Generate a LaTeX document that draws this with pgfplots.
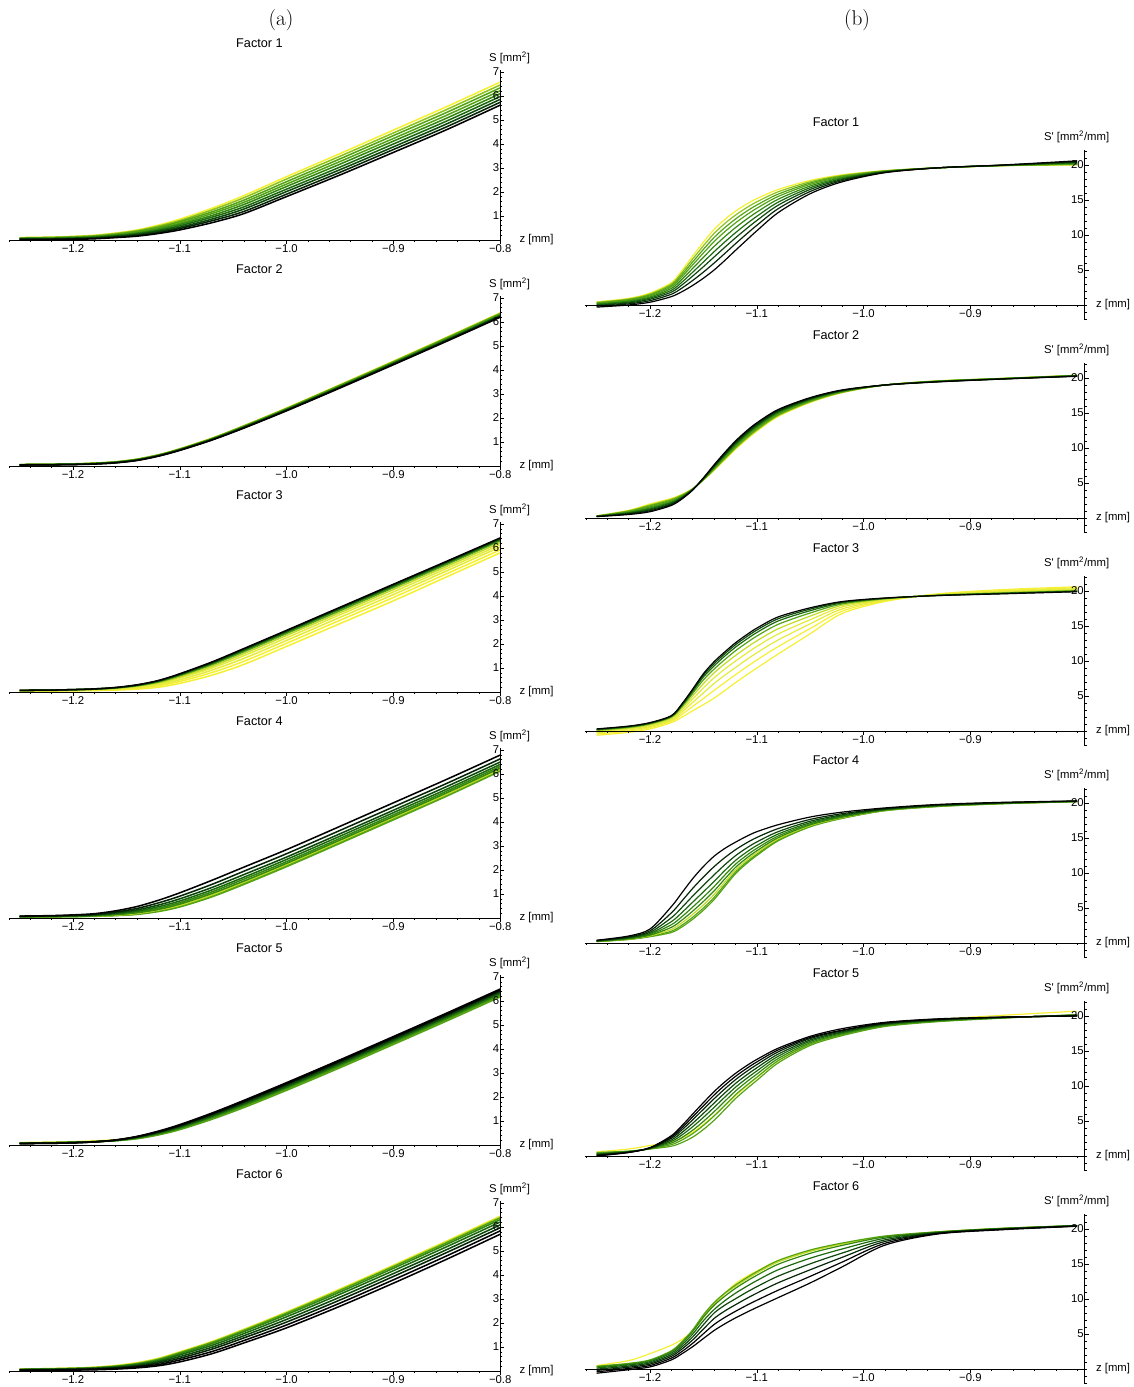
\documentclass[border=0pt]{standalone}
\usepackage{pgfplots}
\usepackage{pgfplotstable}
\pgfplotsset{compat=1.18}
\usepackage{fontspec}
\newfontfamily\arial{Liberation Sans}
\newcommand\lblfont{\arial\fontsize{8.5}{10}\selectfont}
\newcommand\ttlfont{\arial\fontsize{9.5}{11}\selectfont}

\definecolor{cY}{rgb}{0.96,0.94,0.20}
\definecolor{cY2}{rgb}{0.90,0.92,0.24}
\definecolor{cYG}{rgb}{0.76,0.86,0.15}
\definecolor{cLG}{rgb}{0.55,0.76,0.10}
\definecolor{cG}{rgb}{0.33,0.64,0.08}
\definecolor{cMG}{rgb}{0.20,0.53,0.06}
\definecolor{cDG}{rgb}{0.11,0.41,0.05}
\definecolor{cVG}{rgb}{0.05,0.28,0.04}
\definecolor{cXG}{rgb}{0.02,0.15,0.02}
% palettes
\colorlet{pS0}{cY}\colorlet{pS1}{cLG}\colorlet{pS2}{cG}\colorlet{pS3}{cG}\colorlet{pS4}{cMG}\colorlet{pS5}{cDG}\colorlet{pS6}{cVG}\colorlet{pS7}{cXG}\colorlet{pS8}{black}
\colorlet{pT0}{cY}\colorlet{pT1}{cY}\colorlet{pT2}{cY2}\colorlet{pT3}{cY2}\colorlet{pT4}{cYG}\colorlet{pT5}{cG}\colorlet{pT6}{cDG}\colorlet{pT7}{cVG}\colorlet{pT8}{black}
\colorlet{pF0}{cG}\colorlet{pF1}{cG}\colorlet{pF2}{cYG}\colorlet{pF3}{cMG}\colorlet{pF4}{cMG}\colorlet{pF5}{cDG}\colorlet{pF6}{cVG}\colorlet{pF7}{cXG}\colorlet{pF8}{black}
\colorlet{pV0}{cY}\colorlet{pV1}{cG}\colorlet{pV2}{cG}\colorlet{pV3}{cMG}\colorlet{pV4}{cDG}\colorlet{pV5}{cVG}\colorlet{pV6}{cXG}\colorlet{pV7}{black}\colorlet{pV8}{black}
\colorlet{pX0}{cY}\colorlet{pX1}{cYG}\colorlet{pX2}{cG}\colorlet{pX3}{cMG}\colorlet{pX4}{cDG}\colorlet{pX5}{cVG}\colorlet{pX6}{cXG}\colorlet{pX7}{black}\colorlet{pX8}{black}

\newcommand\famplot[2]{\pgfplotsinvokeforeach{0,...,8}{\addplot[draw=#2##1] table[x=z,y=y##1]{#1};}}

% ---------- S' panels (b) ----------
\pgfplotstableread{
z y0 y1 y2 y3 y4 y5 y6 y7 y8
-1.25 0.45 0.38 0.30 0.23 0.14 0.04 -0.06 -0.17 -0.30
-1.22 0.95 0.86 0.76 0.67 0.55 0.43 0.30 0.16 0.00
-1.20 1.70 1.57 1.44 1.31 1.15 0.99 0.82 0.62 0.40
-1.18 3.20 3.00 2.80 2.60 2.36 2.10 1.84 1.54 1.20
-1.17 4.96 4.65 4.35 4.04 3.68 3.28 2.88 2.43 1.91
-1.16 7.00 6.58 6.16 5.74 5.24 4.69 4.14 3.51 2.80
-1.15 8.98 8.46 7.95 7.43 6.81 6.14 5.47 4.70 3.83
-1.14 10.80 10.22 9.64 9.06 8.36 7.61 6.86 5.99 5.00
-1.13 12.23 11.64 11.05 10.47 9.76 9.00 8.24 7.36 6.36
-1.12 13.40 12.84 12.28 11.72 11.05 10.32 9.59 8.75 7.80
-1.11 14.38 13.86 13.35 12.83 12.21 11.54 10.86 10.09 9.21
-1.10 15.20 14.74 14.28 13.82 13.27 12.67 12.07 11.38 10.60
-1.08 16.50 16.17 15.84 15.51 15.11 14.69 14.26 13.76 13.20
-1.05 17.80 17.61 17.42 17.23 17.00 16.76 16.51 16.22 15.90
-1.02 18.60 18.50 18.40 18.30 18.18 18.05 17.92 17.77 17.60
-0.98 19.20 19.17 19.14 19.11 19.07 19.04 19.00 18.95 18.90
-0.93 19.60 19.60 19.60 19.60 19.60 19.60 19.60 19.60 19.60
-0.87 19.90 19.91 19.92 19.93 19.94 19.96 19.97 19.98 20.00
-0.80 20.00 20.06 20.12 20.18 20.25 20.33 20.41 20.50 20.60
}\tBone
\pgfplotstableread{
z y0 y1 y2 y3 y4 y5 y6 y7 y8
-1.25 0.30 0.29 0.28 0.26 0.25 0.24 0.23 0.21 0.20
-1.22 1.10 1.03 0.95 0.88 0.80 0.73 0.65 0.58 0.50
-1.20 2.00 1.86 1.73 1.59 1.45 1.31 1.18 1.04 0.90
-1.18 2.80 2.68 2.55 2.43 2.30 2.18 2.05 1.93 1.80
-1.17 3.39 3.31 3.22 3.15 3.06 2.98 2.90 2.82 2.73
-1.16 4.20 4.18 4.15 4.13 4.10 4.08 4.05 4.03 4.00
-1.15 5.40 5.44 5.48 5.52 5.56 5.61 5.64 5.69 5.73
-1.14 6.80 6.90 7.00 7.10 7.20 7.30 7.40 7.50 7.60
-1.13 8.30 8.43 8.57 8.70 8.83 8.96 9.10 9.23 9.36
-1.12 9.80 9.95 10.10 10.25 10.40 10.55 10.70 10.85 11.00
-1.11 11.16 11.31 11.47 11.62 11.78 11.93 12.08 12.24 12.39
-1.10 12.40 12.55 12.70 12.85 13.00 13.15 13.30 13.45 13.60
-1.08 14.50 14.63 14.75 14.88 15.00 15.13 15.25 15.38 15.50
-1.05 16.50 16.59 16.68 16.76 16.85 16.94 17.03 17.11 17.20
-1.02 17.90 17.95 18.00 18.05 18.10 18.15 18.20 18.25 18.30
-0.98 19.00 19.00 19.00 19.00 19.00 19.00 19.00 19.00 19.00
-0.93 19.60 19.58 19.56 19.54 19.53 19.51 19.49 19.47 19.45
-0.87 19.95 19.94 19.93 19.91 19.90 19.89 19.88 19.86 19.85
-0.80 20.40 20.38 20.36 20.34 20.33 20.31 20.29 20.27 20.25
}\tBtwo
\pgfplotstableread{
z y0 y1 y2 y3 y4 y5 y6 y7 y8
-1.25 -0.60 -0.42 -0.26 -0.11 0.01 0.12 0.20 0.26 0.30
-1.22 -0.20 -0.02 0.14 0.29 0.41 0.52 0.60 0.66 0.70
-1.20 0.30 0.48 0.64 0.79 0.91 1.02 1.10 1.16 1.20
-1.18 1.20 1.40 1.58 1.74 1.88 2.00 2.09 2.15 2.20
-1.17 1.99 2.38 2.72 3.02 3.29 3.52 3.69 3.81 3.90
-1.16 2.90 3.52 4.08 4.57 5.01 5.38 5.66 5.85 6.00
-1.15 3.77 4.65 5.45 6.15 6.77 7.30 7.71 7.97 8.19
-1.14 4.70 5.80 6.79 7.60 8.30 8.85 9.30 9.62 9.90
-1.13 5.78 6.93 7.97 8.85 9.60 10.20 10.70 11.03 11.30
-1.12 6.90 8.04 9.07 9.98 10.78 11.46 11.97 12.32 12.60
-1.11 7.96 9.11 10.15 11.06 11.87 12.55 13.07 13.42 13.70
-1.10 9.00 10.14 11.17 12.08 12.88 13.56 14.07 14.42 14.70
-1.08 11.00 12.06 13.01 13.86 14.60 15.24 15.72 16.04 16.30
-1.05 13.90 14.64 15.31 15.90 16.42 16.86 17.19 17.42 17.60
-1.02 16.80 17.14 17.45 17.72 17.96 18.16 18.31 18.42 18.50
-0.98 18.50 18.60 18.69 18.77 18.84 18.90 18.95 18.98 19.00
-0.93 19.60 19.55 19.51 19.47 19.43 19.40 19.38 19.36 19.35
-0.87 20.20 20.08 19.97 19.88 19.79 19.72 19.67 19.63 19.60
-0.80 20.60 20.46 20.33 20.22 20.12 20.04 19.98 19.94 19.90
}\tBthree
\pgfplotstableread{
z y0 y1 y2 y3 y4 y5 y6 y7 y8
-1.25 0.20 0.21 0.22 0.24 0.26 0.28 0.31 0.35 0.40
-1.22 0.50 0.53 0.56 0.60 0.65 0.71 0.79 0.88 1.00
-1.20 0.90 0.96 1.03 1.12 1.23 1.36 1.53 1.74 2.00
-1.18 1.50 1.69 1.94 2.24 2.61 3.05 3.61 4.31 5.20
-1.17 2.31 2.56 2.90 3.29 3.78 4.37 5.10 6.03 7.20
-1.16 3.40 3.69 4.10 4.56 5.14 5.84 6.71 7.81 9.20
-1.15 4.69 5.00 5.44 5.94 6.56 7.31 8.24 9.43 10.93
-1.14 6.20 6.51 6.94 7.44 8.06 8.80 9.73 10.91 12.40
-1.13 8.06 8.34 8.71 9.15 9.70 10.35 11.17 12.20 13.51
-1.12 9.90 10.13 10.44 10.80 11.25 11.79 12.47 13.32 14.40
-1.11 11.30 11.50 11.77 12.08 12.47 12.94 13.53 14.27 15.21
-1.10 12.50 12.67 12.91 13.18 13.52 13.93 14.44 15.08 15.90
-1.08 14.60 14.72 14.88 15.06 15.29 15.57 15.91 16.35 16.90
-1.05 16.60 16.67 16.77 16.88 17.02 17.19 17.40 17.66 18.00
-1.02 17.80 17.85 17.91 17.98 18.07 18.18 18.31 18.48 18.70
-0.98 18.90 18.92 18.95 18.98 19.02 19.07 19.13 19.20 19.30
-0.93 19.50 19.52 19.54 19.56 19.59 19.63 19.67 19.73 19.80
-0.87 19.90 19.91 19.92 19.94 19.96 19.98 20.01 20.05 20.10
-0.80 20.20 20.21 20.21 20.22 20.23 20.24 20.26 20.28 20.30
}\tBfour
\pgfplotstableread{
z y0 y1 y2 y3 y4 y5 y6 y7 y8
-1.25 0.60 0.50 0.43 0.35 0.28 0.20 0.13 0.06 0.00
-1.22 1.00 0.70 0.67 0.64 0.61 0.58 0.55 0.52 0.50
-1.20 1.50 1.00 1.03 1.06 1.09 1.12 1.15 1.18 1.20
-1.18 2.00 1.40 1.63 1.85 2.08 2.30 2.53 2.72 2.90
-1.17 2.58 1.93 2.30 2.65 3.02 3.38 3.75 4.06 4.36
-1.16 3.40 2.70 3.20 3.69 4.19 4.68 5.18 5.60 6.00
-1.15 4.51 3.79 4.37 4.94 5.52 6.09 6.68 7.17 7.63
-1.14 5.80 5.10 5.72 6.33 6.95 7.56 8.18 8.71 9.20
-1.13 7.19 6.64 7.23 7.82 8.41 9.00 9.59 10.11 10.58
-1.12 8.60 8.20 8.74 9.28 9.82 10.36 10.90 11.37 11.80
-1.11 9.93 9.54 10.04 10.54 11.03 11.53 12.03 12.46 12.86
-1.10 11.20 10.80 11.25 11.70 12.15 12.60 13.05 13.44 13.80
-1.08 13.60 13.30 13.62 13.93 14.25 14.56 14.88 15.15 15.40
-1.05 16.00 15.80 16.00 16.19 16.39 16.58 16.78 16.94 17.10
-1.02 17.40 17.20 17.34 17.47 17.61 17.74 17.88 17.99 18.20
-0.98 18.60 18.50 18.59 18.68 18.77 18.86 18.95 19.03 19.10
-0.93 19.50 19.20 19.26 19.32 19.38 19.44 19.50 19.55 19.60
-0.87 20.10 19.70 19.72 19.75 19.77 19.79 19.81 19.83 19.85
-0.80 20.70 20.20 20.17 20.14 20.11 20.08 20.05 20.02 20.00
}\tBfive
\pgfplotstableread{
z y0 y1 y2 y3 y4 y5 y6 y7 y8
-1.25 0.50 0.36 0.40 0.30 0.15 -0.02 -0.20 -0.40 -0.60
-1.22 1.20 0.76 0.80 0.71 0.58 0.42 0.26 0.08 -0.10
-1.20 2.20 1.26 1.30 1.20 1.05 0.88 0.70 0.50 0.30
-1.18 3.40 2.55 2.60 2.47 2.28 2.05 1.82 1.56 1.30
-1.17 4.23 3.85 3.92 3.74 3.48 3.18 2.87 2.52 2.19
-1.16 5.40 5.50 5.60 5.36 5.00 4.59 4.16 3.68 3.20
-1.15 7.35 7.61 7.75 7.41 6.90 6.33 5.71 5.04 4.36
-1.14 9.20 9.35 9.50 9.10 8.50 8.00 7.22 6.36 5.50
-1.13 10.80 10.75 10.85 10.40 9.75 9.12 8.29 7.37 6.45
-1.12 12.20 11.81 12.00 11.53 10.83 10.03 9.18 8.24 7.30
-1.11 13.18 12.79 12.99 12.50 11.76 10.93 10.04 9.06 8.07
-1.10 14.00 13.70 13.90 13.39 12.63 11.76 10.84 9.82 8.80
-1.08 15.50 15.29 15.50 14.97 14.18 13.27 12.32 11.26 10.20
-1.05 16.90 16.81 17.00 16.53 15.83 15.03 14.18 13.24 12.30
-1.02 17.90 17.86 18.00 17.66 17.15 16.57 15.96 15.28 14.60
-0.98 18.90 18.95 19.00 18.87 18.68 18.45 18.22 17.96 17.70
-0.93 19.60 19.59 19.60 19.57 19.53 19.47 19.42 19.36 19.30
-0.87 20.10 20.09 20.10 20.08 20.05 20.02 19.98 19.94 19.90
-0.80 20.40 20.50 20.50 20.49 20.48 20.46 20.44 20.42 20.40
}\tBsix
% ---------- S panels (a) ----------
\pgfplotstableread{
z y0 y1 y2 y3 y4 y5 y6 y7 y8
-1.25 0.10 0.09 0.08 0.07 0.06 0.05 0.04 0.03 0.02
-1.22 0.12 0.11 0.10 0.08 0.07 0.06 0.05 0.03 0.02
-1.20 0.15 0.14 0.12 0.11 0.09 0.08 0.06 0.05 0.03
-1.18 0.20 0.18 0.16 0.14 0.13 0.11 0.09 0.07 0.05
-1.16 0.29 0.27 0.24 0.22 0.20 0.17 0.15 0.12 0.10
-1.14 0.42 0.39 0.36 0.32 0.29 0.26 0.23 0.19 0.16
-1.12 0.62 0.58 0.53 0.49 0.45 0.40 0.36 0.31 0.27
-1.10 0.87 0.81 0.76 0.70 0.65 0.59 0.53 0.48 0.42
-1.07 1.32 1.25 1.17 1.10 1.02 0.95 0.87 0.80 0.72
-1.04 1.85 1.76 1.66 1.57 1.48 1.38 1.29 1.19 1.10
-1.00 2.64 2.54 2.43 2.33 2.23 2.12 2.02 1.91 1.81
-0.95 3.60 3.49 3.38 3.27 3.16 3.04 2.93 2.82 2.71
-0.90 4.58 4.46 4.35 4.23 4.12 4.00 3.88 3.77 3.65
-0.85 5.56 5.44 5.32 5.20 5.08 4.96 4.84 4.72 4.60
-0.80 6.58 6.46 6.34 6.22 6.10 5.98 5.86 5.74 5.62
}\tAone
\pgfplotstableread{
z y0 y1 y2 y3 y4 y5 y6 y7 y8
-1.25 0.06 0.06 0.06 0.05 0.05 0.05 0.05 0.05 0.04
-1.22 0.07 0.07 0.07 0.06 0.06 0.06 0.06 0.05 0.05
-1.20 0.09 0.09 0.08 0.08 0.08 0.07 0.07 0.06 0.06
-1.18 0.12 0.12 0.11 0.11 0.10 0.10 0.09 0.09 0.08
-1.16 0.18 0.17 0.17 0.16 0.16 0.15 0.14 0.14 0.13
-1.14 0.29 0.28 0.28 0.27 0.26 0.25 0.25 0.24 0.23
-1.12 0.47 0.46 0.46 0.45 0.44 0.43 0.43 0.42 0.41
-1.10 0.72 0.71 0.70 0.69 0.69 0.68 0.67 0.66 0.65
-1.07 1.16 1.15 1.14 1.13 1.12 1.11 1.10 1.09 1.08
-1.04 1.68 1.67 1.66 1.64 1.63 1.62 1.61 1.59 1.58
-1.00 2.42 2.40 2.39 2.38 2.36 2.35 2.33 2.32 2.30
-0.95 3.39 3.37 3.36 3.34 3.32 3.30 3.29 3.27 3.25
-0.90 4.37 4.35 4.33 4.31 4.30 4.28 4.26 4.24 4.22
-0.85 5.37 5.35 5.33 5.31 5.29 5.26 5.24 5.22 5.20
-0.80 6.38 6.36 6.34 6.31 6.29 6.27 6.25 6.22 6.20
}\tAtwo
\pgfplotstableread{
z y0 y1 y2 y3 y4 y5 y6 y7 y8
-1.25 0.04 0.05 0.05 0.06 0.06 0.06 0.07 0.07 0.07
-1.22 0.04 0.05 0.06 0.06 0.07 0.07 0.08 0.08 0.08
-1.20 0.05 0.06 0.07 0.08 0.08 0.09 0.10 0.10 0.10
-1.18 0.06 0.07 0.09 0.10 0.11 0.12 0.12 0.13 0.13
-1.16 0.08 0.10 0.12 0.14 0.15 0.17 0.18 0.18 0.19
-1.14 0.12 0.16 0.19 0.22 0.24 0.26 0.28 0.29 0.30
-1.12 0.20 0.26 0.31 0.35 0.39 0.42 0.45 0.47 0.48
-1.10 0.36 0.44 0.51 0.58 0.63 0.68 0.72 0.74 0.76
-1.07 0.70 0.81 0.91 1.00 1.07 1.14 1.19 1.22 1.25
-1.04 1.15 1.28 1.40 1.51 1.60 1.68 1.74 1.78 1.81
-1.00 1.90 2.03 2.15 2.26 2.36 2.44 2.50 2.54 2.57
-0.95 2.85 2.99 3.11 3.22 3.31 3.39 3.46 3.50 3.53
-0.90 3.80 3.94 4.06 4.17 4.27 4.35 4.41 4.46 4.49
-0.85 4.80 4.93 5.05 5.15 5.24 5.32 5.38 5.42 5.45
-0.80 5.80 5.92 6.04 6.13 6.22 6.30 6.35 6.39 6.42
}\tAthree
\pgfplotstableread{
z y0 y1 y2 y3 y4 y5 y6 y7 y8
-1.25 0.05 0.05 0.05 0.06 0.06 0.06 0.07 0.07 0.08
-1.22 0.05 0.05 0.06 0.06 0.07 0.07 0.08 0.09 0.10
-1.20 0.06 0.06 0.07 0.07 0.08 0.09 0.10 0.11 0.13
-1.18 0.07 0.08 0.08 0.09 0.10 0.12 0.13 0.15 0.18
-1.16 0.10 0.11 0.12 0.14 0.16 0.18 0.21 0.25 0.30
-1.14 0.15 0.17 0.19 0.22 0.25 0.29 0.34 0.40 0.48
-1.12 0.27 0.29 0.33 0.36 0.41 0.47 0.54 0.63 0.74
-1.10 0.46 0.49 0.53 0.58 0.64 0.71 0.80 0.91 1.05
-1.07 0.88 0.91 0.96 1.02 1.09 1.17 1.27 1.40 1.57
-1.04 1.40 1.44 1.49 1.54 1.62 1.70 1.81 1.95 2.12
-1.00 2.14 2.18 2.23 2.28 2.35 2.44 2.54 2.68 2.85
-0.95 3.11 3.15 3.20 3.25 3.32 3.41 3.51 3.65 3.82
-0.90 4.09 4.13 4.18 4.23 4.30 4.39 4.49 4.63 4.80
-0.85 5.08 5.12 5.16 5.22 5.29 5.37 5.48 5.61 5.78
-0.80 6.12 6.15 6.20 6.25 6.32 6.40 6.50 6.63 6.79
}\tAfour
\pgfplotstableread{
z y0 y1 y2 y3 y4 y5 y6 y7 y8
-1.25 0.10 0.08 0.08 0.07 0.07 0.07 0.07 0.06 0.06
-1.22 0.12 0.10 0.10 0.09 0.09 0.08 0.08 0.07 0.07
-1.20 0.14 0.12 0.12 0.11 0.11 0.10 0.10 0.09 0.09
-1.18 0.17 0.14 0.14 0.14 0.14 0.13 0.13 0.13 0.13
-1.16 0.22 0.18 0.18 0.19 0.19 0.20 0.20 0.21 0.21
-1.14 0.30 0.26 0.28 0.29 0.31 0.32 0.34 0.35 0.36
-1.12 0.46 0.42 0.44 0.47 0.49 0.52 0.54 0.56 0.58
-1.10 0.68 0.64 0.67 0.70 0.73 0.77 0.80 0.82 0.85
-1.07 1.11 1.07 1.11 1.15 1.19 1.23 1.27 1.30 1.33
-1.04 1.60 1.56 1.61 1.65 1.70 1.74 1.79 1.82 1.86
-1.00 2.32 2.28 2.33 2.38 2.42 2.47 2.52 2.56 2.60
-0.95 3.26 3.22 3.27 3.32 3.37 3.42 3.47 3.51 3.55
-0.90 4.23 4.19 4.24 4.29 4.34 4.39 4.44 4.48 4.52
-0.85 5.22 5.17 5.22 5.27 5.32 5.37 5.42 5.46 5.50
-0.80 6.24 6.17 6.22 6.27 6.32 6.37 6.42 6.46 6.50
}\tAfive
\pgfplotstableread{
z y0 y1 y2 y3 y4 y5 y6 y7 y8
-1.25 0.08 0.08 0.07 0.07 0.06 0.05 0.05 0.04 0.03
-1.22 0.10 0.10 0.09 0.08 0.08 0.06 0.05 0.04 0.03
-1.20 0.12 0.12 0.11 0.10 0.09 0.08 0.07 0.05 0.04
-1.18 0.16 0.15 0.14 0.13 0.12 0.10 0.09 0.07 0.05
-1.16 0.23 0.22 0.20 0.19 0.17 0.15 0.13 0.10 0.08
-1.14 0.35 0.33 0.31 0.29 0.27 0.23 0.20 0.17 0.13
-1.12 0.53 0.51 0.49 0.46 0.42 0.38 0.33 0.27 0.22
-1.10 0.80 0.78 0.76 0.72 0.67 0.60 0.53 0.46 0.38
-1.07 1.23 1.21 1.19 1.14 1.07 0.99 0.91 0.81 0.72
-1.04 1.74 1.72 1.69 1.64 1.56 1.47 1.38 1.27 1.17
-1.00 2.46 2.44 2.41 2.35 2.26 2.15 2.04 1.92 1.80
-0.95 3.42 3.39 3.36 3.29 3.20 3.08 2.96 2.83 2.70
-0.90 4.41 4.38 4.35 4.28 4.18 4.06 3.94 3.80 3.66
-0.85 5.42 5.39 5.35 5.28 5.18 5.06 4.94 4.80 4.66
-0.80 6.45 6.42 6.38 6.31 6.21 6.09 5.97 5.84 5.70
}\tAsix

\pgfplotsset{
  mma/.style={
    scale only axis, clip=false, axis on top, anchor=south west,
    axis x line*=middle, axis y line*=right,
    hide obscured x ticks=false, hide obscured y ticks=false,
    x=801pt,
    tick align=outside,
    major tick length=3pt, minor tick length=1.6pt,
    axis line style={line width=0.55pt},
    every tick/.style={black, line width=0.45pt},
    tick label style={font=\lblfont},
    xticklabel style={yshift=3pt},
    yticklabel style={anchor=east, xshift=-2.5pt, inner sep=1pt},
    every axis plot/.append style={smooth, no markers},
  },
  lft/.style={mma, xmin=-1.26, xmax=-0.8, ymin=0, ymax=7.08, y=18pt,
    every axis plot/.append style={line width=1.15pt},
    xtick={-1.2,-1.1,-1,-0.9,-0.8}, xticklabels={−1.2,−1.1,−1.0,−0.9,−0.8},
    minor xtick={-1.26,-1.24,-1.22,-1.18,-1.16,-1.14,-1.12,-1.08,-1.06,-1.04,-1.02,-0.98,-0.96,-0.94,-0.92,-0.88,-0.86,-0.84,-0.82},
    ytick={1,2,3,4,5,6,7}, yticklabels={1,2,3,4,5,6,7},
    minor ytick={0.2,0.4,...,7.0}},
  rgt/.style={mma, xmin=-1.261, xmax=-0.793, ymin=-2.1, ymax=22.2, y=5.25pt,
    every axis plot/.append style={line width=0.9pt},
    xtick={-1.2,-1.1,-1,-0.9}, xticklabels={−1.2,−1.1,−1.0,−0.9},
    minor xtick={-1.26,-1.24,-1.22,-1.18,-1.16,-1.14,-1.12,-1.08,-1.06,-1.04,-1.02,-0.98,-0.96,-0.94,-0.92,-0.88,-0.86,-0.84,-0.82,-0.80},
    ytick={5,10,15,20}, yticklabels={5,10,15,20},
    minor ytick={-2,-1,...,22}},
}
\newcommand\ltext[1]{%
  \node[font=\ttlfont] at (axis cs:-1.0254,8.21) {Factor #1};
  \node[font=\lblfont, anchor=west, xshift=11pt] at (axis cs:-0.8,0) {z [mm]};
  \node[font=\lblfont, xshift=7pt, yshift=9pt] at (axis cs:-0.8,7.08) {S [mm\textsuperscript{2}]};
}
\newcommand\rtext[1]{%
  \node[font=\ttlfont] at (axis cs:-1.0258,26.14) {Factor #1};
  \node[font=\lblfont, anchor=west, xshift=5pt] at (axis cs:-0.793,0) {z [mm]};
  \node[font=\lblfont, xshift=-6pt, yshift=9.5pt] at (axis cs:-0.793,22.2) {S\textquotesingle\ [mm\textsuperscript{2}/mm]};
}

\begin{document}
\begin{tikzpicture}
\path[use as bounding box] (0pt,0pt) rectangle (849.75pt,-1040.25pt);
\node[font=\fontsize{16}{18}\selectfont] at (210.75pt,-15pt) {(a)};
\node[font=\fontsize{16}{18}\selectfont] at (642.75pt,-15pt) {(b)};

\begin{axis}[lft, at={(6.69pt,-180pt)}]
\famplot{\tAone}{pS}\ltext{1}
\end{axis}
\begin{axis}[lft, at={(6.69pt,-349.5pt)}]
\famplot{\tAtwo}{pS}\ltext{2}
\end{axis}
\begin{axis}[lft, at={(6.69pt,-519pt)}]
\famplot{\tAthree}{pT}\ltext{3}
\end{axis}
\begin{axis}[lft, at={(6.69pt,-688.5pt)}]
\famplot{\tAfour}{pF}\ltext{4}
\end{axis}
\begin{axis}[lft, at={(6.69pt,-858.75pt)}]
\famplot{\tAfive}{pV}\ltext{5}
\end{axis}
\begin{axis}[lft, at={(6.69pt,-1028.25pt)}]
\famplot{\tAsix}{pX}\ltext{6}
\end{axis}

\begin{axis}[rgt, at={(438.64pt,-239.78pt)}]
\famplot{\tBone}{pS}\rtext{1}
\end{axis}
\begin{axis}[rgt, at={(438.64pt,-399.53pt)}]
\famplot{\tBtwo}{pS}\rtext{2}
\end{axis}
\begin{axis}[rgt, at={(438.64pt,-559.28pt)}]
\famplot{\tBthree}{pT}\rtext{3}
\end{axis}
\begin{axis}[rgt, at={(438.64pt,-718.28pt)}]
\famplot{\tBfour}{pF}\rtext{4}
\end{axis}
\begin{axis}[rgt, at={(438.64pt,-878.03pt)}]
\famplot{\tBfive}{pV}\rtext{5}
\end{axis}
\begin{axis}[rgt, at={(438.64pt,-1037.78pt)}]
\famplot{\tBsix}{pX}\rtext{6}
\end{axis}
\end{tikzpicture}
\end{document}
